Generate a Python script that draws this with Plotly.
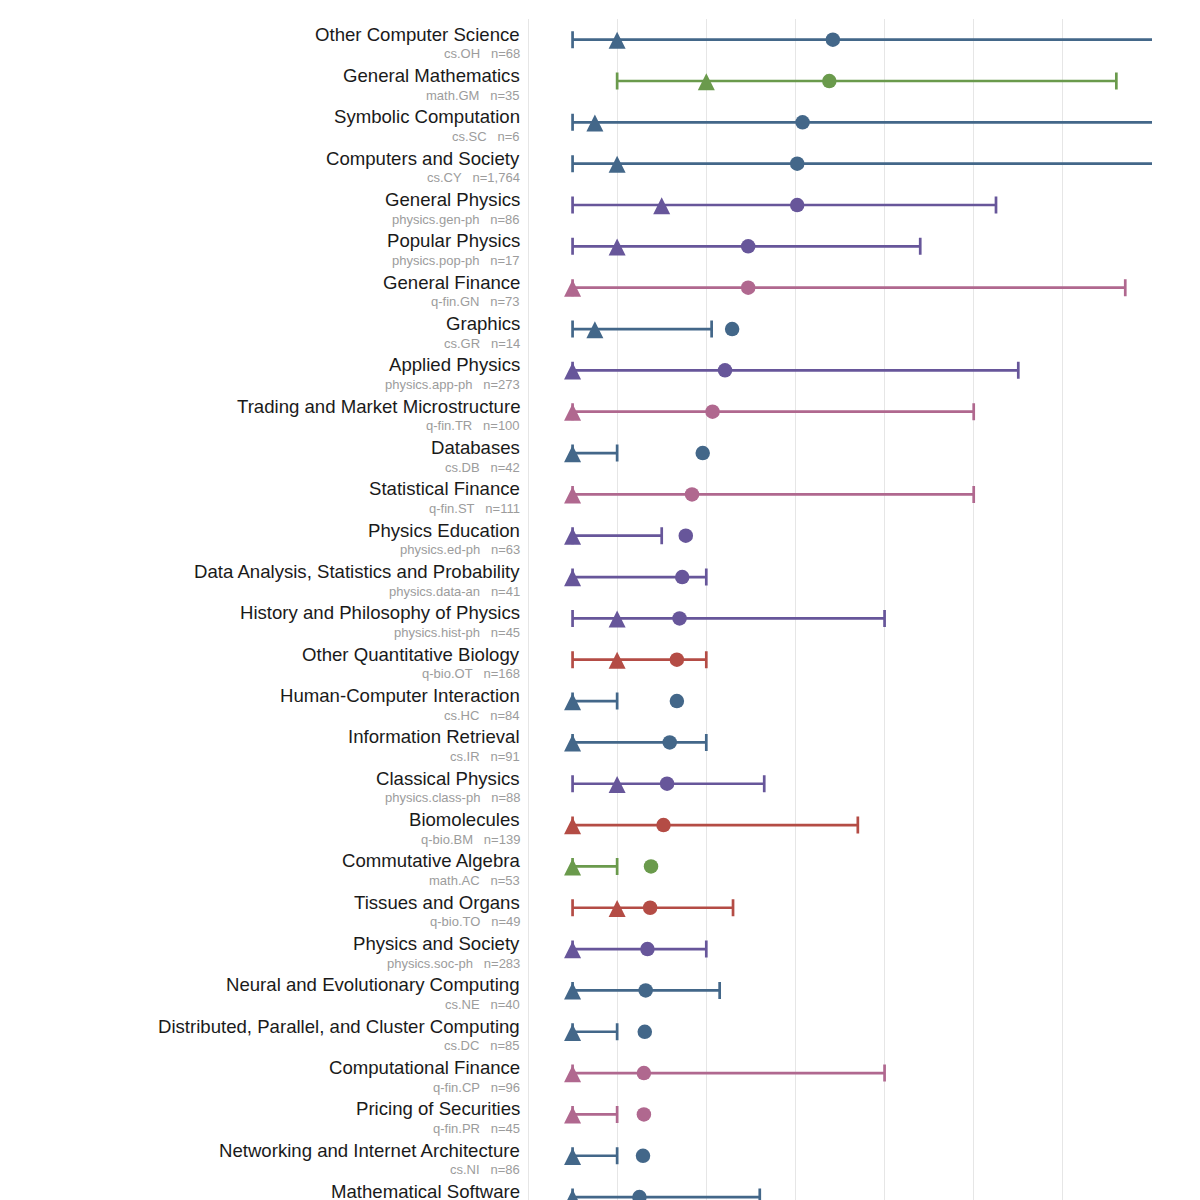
import plotly.graph_objects as go

# ---- data ----
names = [
    "Other Computer Science", "General Mathematics", "Symbolic Computation",
    "Computers and Society", "General Physics", "Popular Physics",
    "General Finance", "Graphics", "Applied Physics",
    "Trading and Market Microstructure", "Databases", "Statistical Finance",
    "Physics Education", "Data Analysis, Statistics and Probability",
    "History and Philosophy of Physics", "Other Quantitative Biology",
    "Human-Computer Interaction", "Information Retrieval", "Classical Physics",
    "Biomolecules", "Commutative Algebra", "Tissues and Organs",
    "Physics and Society", "Neural and Evolutionary Computing",
    "Distributed, Parallel, and Cluster Computing", "Computational Finance",
    "Pricing of Securities", "Networking and Internet Architecture",
    "Mathematical Software",
]
codes = [
    "cs.OH", "math.GM", "cs.SC", "cs.CY", "physics.gen-ph", "physics.pop-ph",
    "q-fin.GN", "cs.GR", "physics.app-ph", "q-fin.TR", "cs.DB", "q-fin.ST",
    "physics.ed-ph", "physics.data-an", "physics.hist-ph", "q-bio.OT",
    "cs.HC", "cs.IR", "physics.class-ph", "q-bio.BM", "math.AC", "q-bio.TO",
    "physics.soc-ph", "cs.NE", "cs.DC", "q-fin.CP", "q-fin.PR", "cs.NI",
    "cs.MS",
]
counts = [68, 35, 6, 1764, 86, 17, 73, 14, 273, 100, 42, 111, 63, 41, 45,
          168, 84, 91, 88, 139, 53, 49, 283, 40, 85, 96, 45, 86, None]
low = [0.5, 1.0, 0.5, 0.5, 0.5, 0.5, 0.5, 0.5, 0.5, 0.5, 0.5, 0.5, 0.5, 0.5,
       0.5, 0.5, 0.5, 0.5, 0.5, 0.5, 0.5, 0.5, 0.5, 0.5, 0.5, 0.5, 0.5, 0.5,
       0.5]
median = [1.0, 2.0, 0.75, 1.0, 1.5, 1.0, 0.5, 0.75, 0.5, 0.5, 0.5, 0.5, 0.5,
          0.5, 1.0, 1.0, 0.5, 0.5, 1.0, 0.5, 0.5, 1.0, 0.5, 0.5, 0.5, 0.5,
          0.5, 0.5, 0.5]
mean = [3.42, 3.38, 3.08, 3.02, 3.02, 2.47, 2.47, 2.29, 2.21, 2.07, 1.96,
        1.84, 1.77, 1.73, 1.70, 1.67, 1.67, 1.59, 1.56, 1.52, 1.38, 1.37,
        1.34, 1.32, 1.31, 1.30, 1.30, 1.29, 1.25]
high = [8.0, 6.6, 7.8, 7.6, 5.25, 4.4, 6.7, 2.06, 5.5, 5.0, 1.0, 5.0, 1.5,
        2.0, 4.0, 2.0, 1.0, 2.0, 2.65, 3.7, 1.0, 2.3, 2.0, 2.15, 1.0, 4.0,
        1.0, 1.0, 2.6]

archive_colors = {
    "cs": "#436789",
    "math": "#6a9a4c",
    "physics": "#67569a",
    "q-fin": "#b0688f",
    "q-bio": "#b44c45",
}

# ---- styling constants ----
FONT = "Liberation Sans, Arial, Helvetica, sans-serif"
TRI_LIFT = 0.19  # arrow-up symbol has its apex at the point; lift it to centre on row

n_rows = len(names)
rows = list(range(n_rows))
archives = [c.split(".")[0] for c in codes]

fig = go.Figure()

for arch, col in archive_colors.items():
    idx = [i for i in rows if archives[i] == arch]
    if not idx:
        continue
    # whiskers: low -> high
    fig.add_trace(go.Scatter(
        x=[low[i] for i in idx],
        y=[i for i in idx],
        mode="markers",
        marker=dict(size=1, color="rgba(0,0,0,0)"),
        error_x=dict(
            type="data", symmetric=False,
            array=[high[i] - low[i] for i in idx],
            arrayminus=[0 for _ in idx],
            color=col, thickness=2.7, width=8.5,
        ),
        hoverinfo="skip", showlegend=False,
    ))

for arch, col in archive_colors.items():
    idx = [i for i in rows if archives[i] == arch]
    if not idx:
        continue
    fig.add_trace(go.Scatter(
        x=[median[i] for i in idx],
        y=[i - TRI_LIFT for i in idx],
        mode="markers",
        marker=dict(symbol="arrow-up", size=17, color=col),
        showlegend=False,
    ))
    fig.add_trace(go.Scatter(
        x=[mean[i] for i in idx],
        y=[i for i in idx],
        mode="markers",
        marker=dict(symbol="circle", size=14.5, color=col),
        showlegend=False,
    ))

# row labels
for i in rows:
    fig.add_annotation(
        x=0, xref="paper", y=i, yref="y",
        text=names[i], showarrow=False,
        xanchor="right", yanchor="middle", xshift=-6, yshift=5.5,
        font=dict(family=FONT, size=18.6, color="#1a1a1a"),
    )
    if counts[i] is not None:
        sub = codes[i] + "\u00a0\u00a0\u00a0n=" + f"{counts[i]:,}"
        fig.add_annotation(
            x=0, xref="paper", y=i, yref="y",
            text=sub, showarrow=False,
            xanchor="right", yanchor="middle", xshift=-6, yshift=-14,
            font=dict(family=FONT, size=13, color="#9c9c9c"),
        )

fig.update_layout(
    width=1200, height=1200,
    margin=dict(l=528, r=48, t=19, b=0),
    paper_bgcolor="white", plot_bgcolor="white",
    font=dict(family=FONT),
    xaxis=dict(range=[0, 7], tick0=0, dtick=1, showgrid=True,
               gridcolor="#e6e6e6", gridwidth=1, zeroline=True,
               zerolinecolor="#e6e6e6", zerolinewidth=1,
               showticklabels=False, ticks="", showline=False),
    yaxis=dict(range=[28.07, -0.5], showgrid=False, zeroline=False,
               showticklabels=False, ticks="", showline=False),
)

fig.write_html("out.html")
